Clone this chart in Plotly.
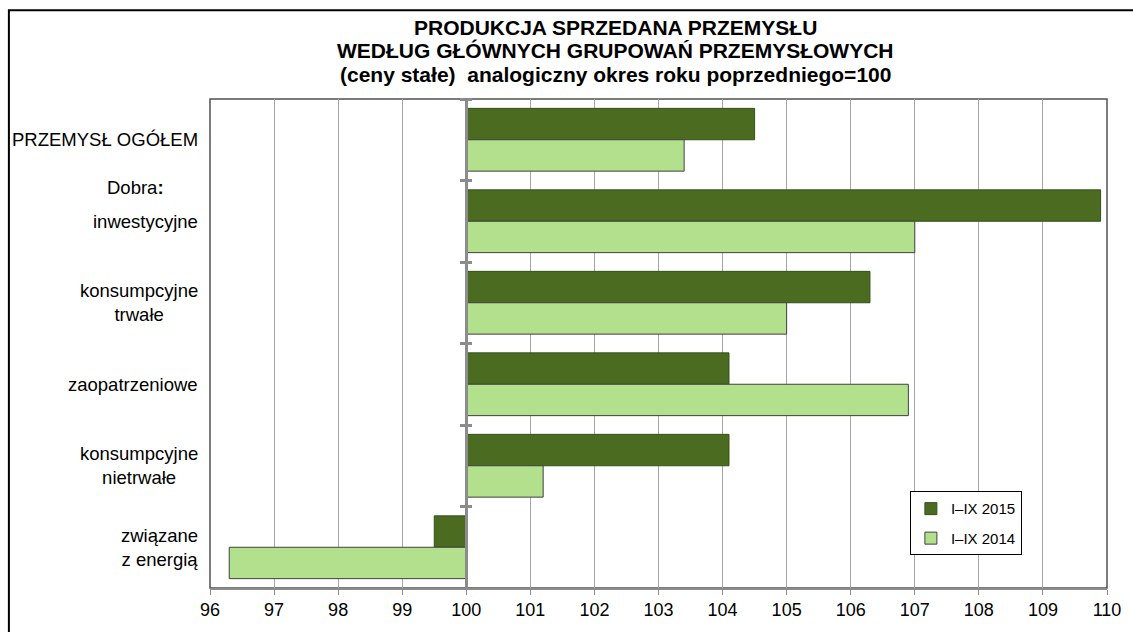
import plotly.graph_objects as go

categories = ["PRZEMYSŁ OGÓŁEM", "inwestycyjne", "konsumpcyjne<br>trwałe",
              "zaopatrzeniowe", "konsumpcyjne<br>nietrwałe", "związane<br>z energią"]
series_names = ["I–IX 2015", "I–IX 2014"]
values_2015 = [104.5, 109.9, 106.3, 104.1, 104.1, 99.5]
values_2014 = [103.4, 107.0, 105.0, 106.9, 101.2, 96.3]
base_value = 100
x_ticks = list(range(96, 111))
title_lines = ["PRODUKCJA SPRZEDANA PRZEMYSŁU",
               "WEDŁUG GŁÓWNYCH GRUPOWAŃ PRZEMYSŁOWYCH",
               "(ceny stałe)  analogiczny okres roku poprzedniego=100"]
group_label = "Dobra<b>:</b>"

W, H = 1133, 632
L, R, T, B = 210, 22, 99, 37
pw, ph = W - L - R, H - T - B


def px_x(p):
    return (p - L) / pw


def px_y(p):
    return (H - B - p) / ph


FONT = "Liberation Sans, Arial, sans-serif"
dark, light = "#4b6b20", "#b3e08c"
n_cat = len(categories)
cat_range = [n_cat - 0.5, -0.5]

fig = go.Figure()
for name, vals, col, lc, grp in [(series_names[0], values_2015, dark, "#34501a", "a"),
                                  (series_names[1], values_2014, light, "#404040", "b")]:
    fig.add_trace(go.Bar(
        y=categories, x=[v - base_value for v in vals], base=base_value,
        orientation="h", name=name, legendgroup=grp,
        marker=dict(color=col, line=dict(color=lc, width=1)),
    ))

# invisible partner trace so the crossing-tick axis (right side of 100 line) is rendered
fig.add_trace(go.Scatter(y=categories, x=[base_value] * n_cat, yaxis="y2",
                         mode="markers", marker=dict(opacity=0), showlegend=False,
                         hoverinfo="skip"))

pos100 = (base_value - x_ticks[0]) / (x_ticks[-1] - x_ticks[0])

common_y = dict(type="category", categoryorder="array", categoryarray=categories,
                range=cat_range, autorange=False, anchor="free", position=pos100,
                ticks="outside", ticklen=5, tickwidth=2.5, tickcolor="#8c8c8c",
                tickson="boundaries", showticklabels=False, showgrid=False,
                zeroline=False, fixedrange=True)

fig.update_layout(
    width=W, height=H,
    margin=dict(l=L, r=R, t=T, b=B),
    paper_bgcolor="white", plot_bgcolor="white",
    barmode="group", bargap=0.23, bargroupgap=0,
    font=dict(family=FONT, size=18, color="black"),
    showlegend=True,
    legend=dict(x=px_x(913), y=px_y(497), xanchor="left", yanchor="top",
                bordercolor="black", borderwidth=1, bgcolor="white",
                font=dict(size=15), tracegroupgap=7, traceorder="grouped",
                itemwidth=30),
    xaxis=dict(range=[x_ticks[0], x_ticks[-1]], tickvals=x_ticks,
               showgrid=True, gridcolor="#a6a6a6", gridwidth=1,
               zeroline=False, showline=True, linecolor="#8c8c8c", linewidth=1.5,
               ticks="outside", ticklen=5, tickcolor="#8c8c8c", tickwidth=1,
               tickfont=dict(size=18), fixedrange=True),
    yaxis=dict(**common_y, showline=True, linecolor="#8c8c8c", linewidth=3, side="left"),
    yaxis2=dict(**common_y, overlaying="y", side="right", showline=False),
)

shapes = [
    dict(type="rect", xref="paper", yref="paper", x0=0, x1=1, y0=0, y1=1,
         line=dict(color="#505050", width=1.5), layer="below"),
    dict(type="rect", xref="paper", yref="paper",
         x0=px_x(8), x1=px_x(W + 20), y0=px_y(H + 20), y1=px_y(9),
         line=dict(color="black", width=2), layer="below"),
]
fig.update_layout(shapes=shapes)

annotations = []
for cat in categories:
    annotations.append(dict(x=0, y=cat, xref="paper", yref="y", xshift=-10,
                            xanchor="right", yanchor="middle", align="center",
                            text=cat, showarrow=False,
                            font=dict(size=18.5, family=FONT, color="black")))
annotations.append(dict(x=px_x(135), y=px_y(189), xref="paper", yref="paper",
                        xanchor="center", yanchor="middle", text=group_label,
                        showarrow=False, font=dict(size=18.5, family=FONT)))
for line, py in zip(title_lines, [26, 50, 74]):
    annotations.append(dict(x=px_x(617), y=px_y(py), xref="paper", yref="paper",
                            xanchor="center", yanchor="middle",
                            text="<b>" + line + "</b>", showarrow=False,
                            font=dict(size=21, family=FONT, color="black")))
fig.update_layout(annotations=annotations)

fig.write_html("out.html", config={"displayModeBar": False},
               post_script="document.body.style.margin='0';document.body.style.overflow='hidden';")
